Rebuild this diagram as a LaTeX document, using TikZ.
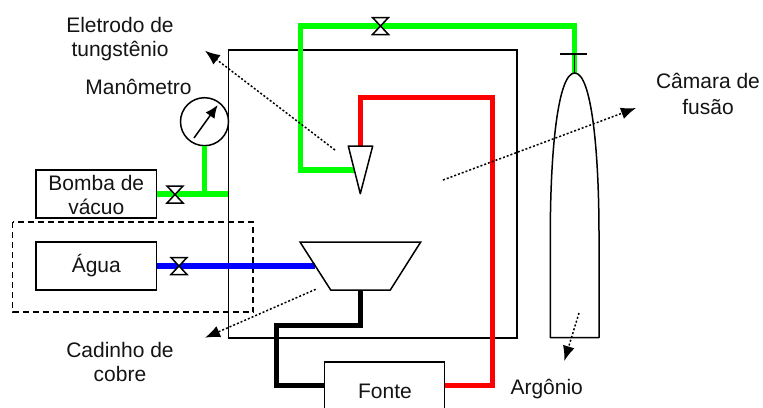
\documentclass[tikz,border=0pt]{standalone}
\usepackage{fontspec}
\setmainfont{Liberation Sans}
\usetikzlibrary{arrows.meta,calc}
\definecolor{pipegreen}{RGB}{0,255,0}
\definecolor{pipered}{RGB}{255,0,0}
\definecolor{pipeblue}{RGB}{0,0,255}
\definecolor{ink}{RGB}{20,20,20}
\tikzset{
  box/.style={draw=black,line width=1.5pt,inner sep=0pt,outer sep=0pt,rectangle,font=\fontsize{21}{24}\selectfont,text=ink,align=center},
  outline/.style={draw=black,line width=1.5pt,line join=miter,fill=white},
  pipe/.style={line width=5.5pt,line join=miter,line cap=butt},
  lbl/.style={anchor=base,inner sep=0pt,font=\fontsize{21}{24}\selectfont,text=ink},
  pointer/.style={line width=1.5pt,black,dash pattern=on 2pt off 2pt,-{Latex[length=15pt,width=12pt,sep=0pt]}},
  valve/.pic={\draw[outline] (-8,-8.5) -- (8,-8.5) -- (-8,8.5) -- (8,8.5) -- cycle;}
}
\begin{document}
\begin{tikzpicture}[x=1pt,y=-1pt]
\path[use as bounding box] (0,0) rectangle (763,407);
\clip (0,0) rectangle (763,407);
\fill[white] (0,0) rectangle (763,407);

% chamber and boxes
\node[box,minimum width=288.5pt,minimum height=288pt] (chamber) at (372.5,194) {};
\node[box,minimum width=120.5pt,minimum height=48pt] (bomba) at (96.25,194) {};
\node[box,minimum width=120.5pt,minimum height=48pt] (agua) at (96.25,266) {};
\node[box,minimum width=120pt,minimum height=60pt] (fonte) at (384.5,392) {};
\node[box,circle,minimum size=48pt,fill=white] (gauge) at (204.5,121.7) {};

% reference points
\coordinate (gaugeTail) at (194,138);
\coordinate (gaugeTip) at (217.7,105);
\coordinate (eL) at (348.3,146);
\coordinate (eR) at (372.7,146);
\coordinate (eB) at (360.3,193.7);
\coordinate (eTop) at (360.3,146);
\coordinate (eSide) at (355,170);
\coordinate (cTL) at (300,242);
\coordinate (cTR) at (420.7,242);
\coordinate (cBR) at (390.3,290);
\coordinate (cBL) at (330.7,290);
\coordinate (cBot) at (360.3,290);
\coordinate (cSide) at (315,266);
\coordinate (apex) at (574.7,73);
\coordinate (tbarL) at (560,54);
\coordinate (tbarR) at (587,54);
\coordinate (tbarM) at (574.7,54);
\coordinate (cylL) at (550.3,337.7);
\coordinate (cylR) at (599,337.7);
\coordinate (junction) at (204.5,194);

% dashed cooling zone
\draw[black,line width=1.5pt,dash pattern=on 6pt off 4pt] (12.5,222) rectangle (253,312);

% pipes
\draw[pipe,pipegreen] (eSide) -- (300.5,170) -- (300.5,26) -- (574.7,26) -- (apex);
\draw[pipe,pipegreen] (bomba.east) -- (bomba.east -| chamber.west);
\draw[pipe,pipegreen] (gauge.south) -- (junction);
\draw[pipe,pipeblue] (agua.east) -- (cSide);
\draw[pipe,pipered] (eTop) -- (360.3,97.7) -- (492.7,97.7) -- (492.7,385.7) -- (fonte.east |- 0,385.7);
\draw[pipe,black] (cBot) -- (360.3,325.7) -- (276.3,325.7) -- (276.3,385.7) -- (fonte.west |- 0,385.7);

% valves
\pic at (380.5,26) {valve};
\pic at (175,194.5) {valve};
\pic at (179,266) {valve};

% gauge needle
\draw[line width=1.5pt,-{Latex[length=13pt,width=11pt]}] (gaugeTail) -- (gaugeTip);

% electrode
\draw[outline,line join=round] (eL) -- (eR) -- (eB) -- cycle;

% crucible
\draw[outline,fill=none] (cTL) -- (cTR) -- (cBR) -- (cBL) -- cycle;

% cylinder
\draw[line width=1.5pt,line join=round] (cylL) -- (550.3,235)
  .. controls (550.3,150) and (558,73) .. (apex)
  .. controls (591.4,73) and (599,150) .. (599,235) -- (cylR) -- cycle;
\draw[line width=1.5pt] (tbarL) -- (tbarR);
\draw[line width=1.5pt] (tbarM) -- (apex);

% pointers
\coordinate (p1s) at (335,150);
\coordinate (p1e) at (205,50.7);
\coordinate (p2s) at (315.7,289.3);
\coordinate (p2e) at (205,337.7);
\coordinate (p3s) at (443,180);
\coordinate (p3e) at (636,108);
\coordinate (p4s) at (579,313);
\coordinate (p4e) at (564.3,361);
\draw[pointer] (p1s) -- (p1e);
\draw[pointer] (p2s) -- (p2e);
\draw[pointer] (p3s) -- (p3e);
\draw[pointer] (p4s) -- (p4e);

% labels
\node[lbl] (t1) at (120,32) {Eletrodo de};
\node[lbl] (t2) at (120,56) {tungstênio};
\node[lbl] (t3) at (138.5,94) {Manômetro};
\node[lbl] (t4) at (96.3,190) {Bomba de};
\node[lbl] (t5) at (96.3,214) {vácuo};
\node[lbl] (t6) at (96.3,272) {Água};
\node[lbl] (t7) at (120,357) {Cadinho de};
\node[lbl] (t8) at (120,381.7) {cobre};
\node[lbl] (t9) at (385,398) {Fonte};
\node[lbl] (t10) at (708,88) {Câmara de};
\node[lbl] (t11) at (708,114) {fusão};
\node[lbl] (t12) at (546.7,394) {Argônio};
\end{tikzpicture}
\end{document}
